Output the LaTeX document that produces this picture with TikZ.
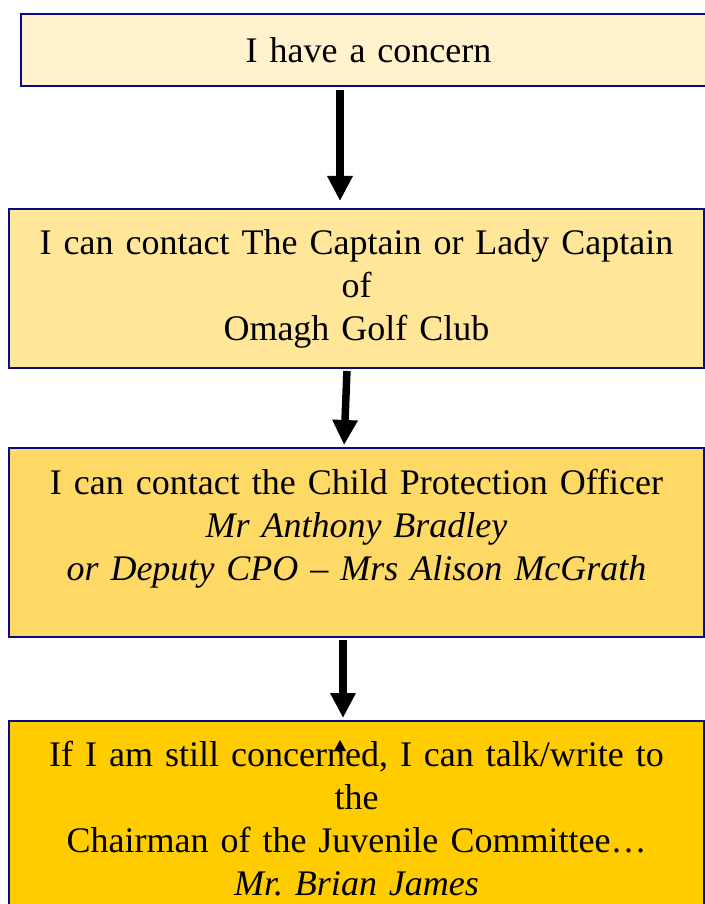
\documentclass[tikz,border=0pt]{standalone}
\usepackage{fontspec}
\setmainfont{Liberation Serif}
\usetikzlibrary{arrows.meta}

\definecolor{navy}{RGB}{10,10,130}
\definecolor{cream}{HTML}{FFF2CC}
\definecolor{sand}{HTML}{FFE699}
\definecolor{honey}{HTML}{FFD966}
\definecolor{gold}{HTML}{FFCC00}

\begin{document}
\begin{tikzpicture}[x=1pt,y=-1pt,
  box/.style={rectangle,draw=navy,line width=2pt,inner sep=0pt,
    minimum width=695pt,text width=680pt,align=center,
    font=\fontsize{36}{43}\selectfont},
  flow/.style={-{Triangle[width=24pt,length=25pt]},line width=7.5pt}]

  \useasboundingbox (0,0) rectangle (704,904);

  \node[box,fill=cream,minimum height=72pt,anchor=north west] (concern) at (20,13)
    {I have a concern};
  \node[box,fill=sand,minimum height=159pt,anchor=north west] (captain) at (8,208)
    {I can contact The Captain or Lady Captain\\ of\\ Omagh Golf Club};
  \node[box,fill=honey,minimum height=189pt,anchor=north west] (cpo) at (8,447)
    {I can contact the Child Protection Officer\\ \textit{Mr Anthony Bradley}\\
     \textit{or Deputy CPO -- Mrs Alison McGrath}\\[-7pt]\mbox{}};
  \node[box,fill=gold,minimum height=196pt,anchor=north west] (chair) at (8,720)
    {If I am still concerned, I can talk/write to\\ the\\
     Chairman of the Juvenile Committee\dots\\ \textit{Mr.\ Brian James}};

  % arrows between the boxes
  \coordinate (x1) at (340,0);
  \coordinate (x2a) at (347,0);
  \coordinate (x2b) at (344,0);
  \coordinate (x3) at (343,0);
  \draw[flow,shorten <=3pt,shorten >=7pt] (concern.south -| x1) -- (captain.north -| x1);
  \draw[flow,shorten <=2pt,shorten >=2pt] (captain.south -| x2a) -- (cpo.north -| x2b);
  \draw[flow,shorten <=2pt,shorten >=2pt] (cpo.south -| x3) -- (chair.north -| x3);

  % stray tip inside the last box
  \fill (334,751) -- (340,740) -- (346,751) -- cycle;
\end{tikzpicture}
\end{document}
